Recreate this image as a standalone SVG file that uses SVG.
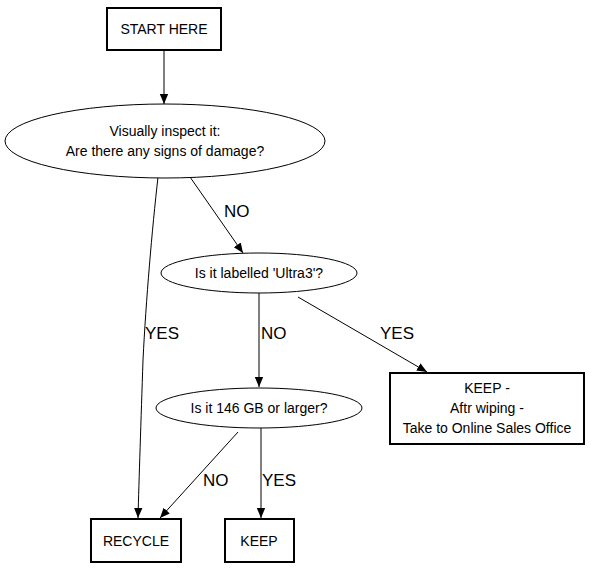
<svg xmlns="http://www.w3.org/2000/svg" width="591" height="573" viewBox="0 0 591 573">
<defs>
<marker id="arr" markerWidth="10" markerHeight="10" viewBox="0 0 10 10" refX="10" refY="5" orient="auto" markerUnits="userSpaceOnUse">
<path d="M0,0.8 L10,5 L0,9.2 z" fill="#000"/>
</marker>
<style>
.box{fill:#fff;stroke:#000;stroke-width:2}
.ell{fill:#fff;stroke:#000;stroke-width:1}
.t{font-family:"Liberation Sans",Arial,sans-serif;font-size:14px;fill:#000;text-anchor:middle}
.lbl{font-family:"Liberation Sans",Arial,sans-serif;font-size:17px;fill:#000}
.e{fill:none;stroke:#000;stroke-width:1;marker-end:url(#arr)}
</style>
</defs>
<rect width="591" height="573" fill="#fff"/>
<g id="connectors">
<path class="e" d="M164,51 L164,104"/>
<path class="e" d="M158,177 C152,230 146,300 143,360 C141,420 139,480 138,518"/>
<path class="e" d="M190,177 L243,253"/>
<path class="e" d="M259,293 L259,387"/>
<path class="e" d="M298,297 L427,372"/>
<path class="e" d="M238,432 L160,518"/>
<path class="e" d="M261,428 L261,518"/>
<text class="lbl" x="145" y="339">YES</text>
<text class="lbl" x="224" y="217">NO</text>
<text class="lbl" x="261" y="339">NO</text>
<text class="lbl" x="380" y="339">YES</text>
<text class="lbl" x="203" y="486">NO</text>
<text class="lbl" x="262" y="486">YES</text>
</g>
<g id="start"><rect class="box" x="107" y="8" width="114" height="42"/><text class="t" x="164" y="34">START HERE</text></g>
<g id="inspect"><ellipse class="ell" cx="165" cy="141" rx="160" ry="37"/><text class="t" x="165" y="136">Visually inspect it:</text><text class="t" x="165" y="156">Are there any signs of damage?</text></g>
<g id="ultra3"><ellipse class="ell" cx="259" cy="273" rx="98" ry="20"/><text class="t" x="259" y="278">Is it labelled 'Ultra3'?</text></g>
<g id="size"><ellipse class="ell" cx="259" cy="408" rx="103" ry="20"/><text class="t" x="259" y="413">Is it 146 GB or larger?</text></g>
<g id="keepwipe"><rect class="box" x="390" y="373" width="194" height="71"/><text class="t" x="487" y="393">KEEP -</text><text class="t" x="487" y="413">Aftr wiping -</text><text class="t" x="487" y="433">Take to Online Sales Office</text></g>
<g id="recycle"><rect class="box" x="91" y="519" width="90" height="43"/><text class="t" x="136" y="546">RECYCLE</text></g>
<g id="keep"><rect class="box" x="225" y="519" width="69" height="43"/><text class="t" x="259" y="546">KEEP</text></g>
</svg>
